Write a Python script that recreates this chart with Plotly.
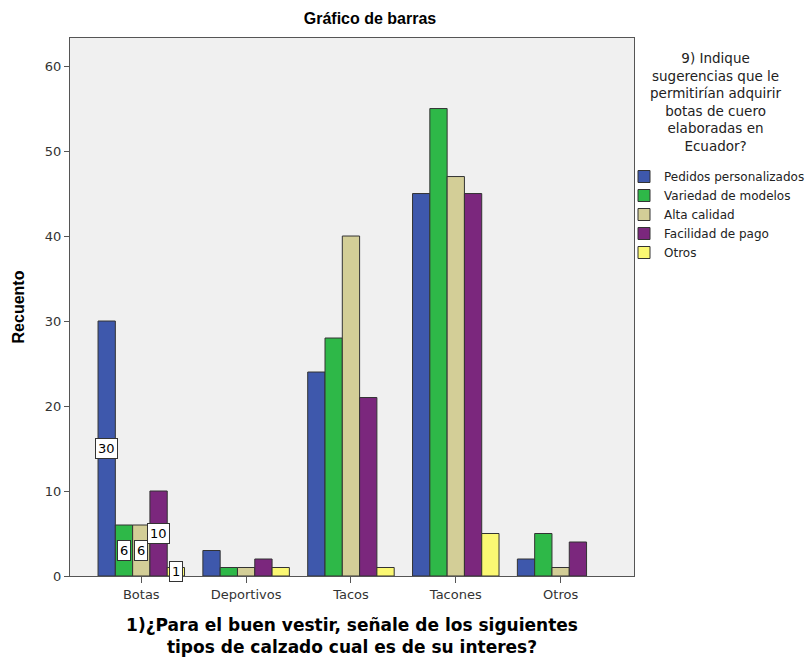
import plotly.graph_objects as go

categorias = ["Botas", "Deportivos", "Tacos", "Tacones", "Otros"]
series = ["Pedidos personalizados", "Variedad de modelos", "Alta calidad",
          "Facilidad de pago", "Otros"]
pedidos = [30, 3, 24, 45, 2]
variedad = [6, 1, 28, 55, 5]
calidad = [6, 1, 40, 47, 1]
facilidad = [10, 2, 21, 45, 4]
otros = [1, 1, 1, 5, 0]
valores = [pedidos, variedad, calidad, facilidad, otros]
colores = ["#3E58AC", "#2EB848", "#D3CE97", "#7B277D", "#FBF873"]

# only the first category carries value labels
categoria_etiquetada = 0

BARGAP = 0.175
SANS = "Liberation Sans, Arial, sans-serif"
WIDE = "DejaVu Sans, Verdana, sans-serif"

# plot-area geometry in pixels, used to place paper-referenced items
L, R, T, B = 70, 177, 38, 81
W, H = 811, 657
PW, PH = W - L - R, H - T - B


def px_x(px):
    return (px - L) / PW


def px_y(py):
    return (H - B - py) / PH


fig = go.Figure()
for nombre, vals, color in zip(series, valores, colores):
    fig.add_trace(go.Bar(
        x=categorias, y=vals, name=nombre,
        marker=dict(color=color,
                    line=dict(color="#333333",
                              width=[1 if v > 0 else 0 for v in vals])),
    ))

# value labels centred on each bar of the labelled group
n = len(series)
ancho = (1 - BARGAP) / n
for i, vals in enumerate(valores):
    v = vals[categoria_etiquetada]
    xc = categoria_etiquetada - (1 - BARGAP) / 2 + (i + 0.5) * ancho
    fig.add_annotation(
        x=xc, y=v / 2, xref="x", yref="y", text=str(v), showarrow=False,
        font=dict(family=WIDE, size=13, color="#000000"),
        bgcolor="#FFFFFF", bordercolor="#333333", borderwidth=1, borderpad=2,
    )

# legend heading
fig.add_annotation(
    x=px_x(716), y=px_y(48), xref="paper", yref="paper",
    xanchor="center", yanchor="top", align="center", showarrow=False,
    text="9) Indique<br>sugerencias que le<br>permitirían adquirir<br>botas de cuero<br>elaboradas en<br>Ecuador?",
    font=dict(family=WIDE, size=13.5, color="#222222"),
)

fig.update_layout(
    width=W, height=H,
    margin=dict(l=L, r=R, t=T, b=B, autoexpand=False),
    paper_bgcolor="#FFFFFF", plot_bgcolor="#F0F0F0",
    barmode="group", bargap=BARGAP, bargroupgap=0,
    font=dict(family=SANS, size=12, color="#222222"),
    title=dict(text="<b>Gráfico de barras</b>", x=370 / W, xanchor="center",
               y=1 - 18 / H, yanchor="middle",
               font=dict(family=SANS, size=16, color="#000000")),
    legend=dict(x=px_x(624), xanchor="left", y=px_y(162), yanchor="top",
                bgcolor="rgba(0,0,0,0)", tracegroupgap=0,
                font=dict(family=WIDE, size=12, color="#222222")),
    showlegend=True,
)
fig.update_xaxes(
    range=[-0.68, 4.7], showline=True, linecolor="#555555", linewidth=1,
    mirror=True, ticks="outside", ticklen=6, tickcolor="#555555",
    tickfont=dict(family=WIDE, size=13, color="#333333"),
    title=dict(text="<b>1)¿Para el buen vestir, señale de los siguientes<br>tipos de calzado cual es de su interes?</b>",
               font=dict(family=WIDE, size=17, color="#000000"), standoff=20),
    showgrid=False, automargin=False,
)
fig.update_yaxes(
    range=[0, 63.3], showline=True, linecolor="#555555", linewidth=1,
    mirror=True, ticks="outside", ticklen=5, tickcolor="#555555",
    tickvals=[0, 10, 20, 30, 40, 50, 60],
    tickfont=dict(family=WIDE, size=13, color="#333333"),
    title=dict(text="<b>Recuento</b>", font=dict(family=SANS, size=16, color="#000000"),
               standoff=16),
    showgrid=False, zeroline=False, automargin=False,
)

fig.write_html("out.html")
